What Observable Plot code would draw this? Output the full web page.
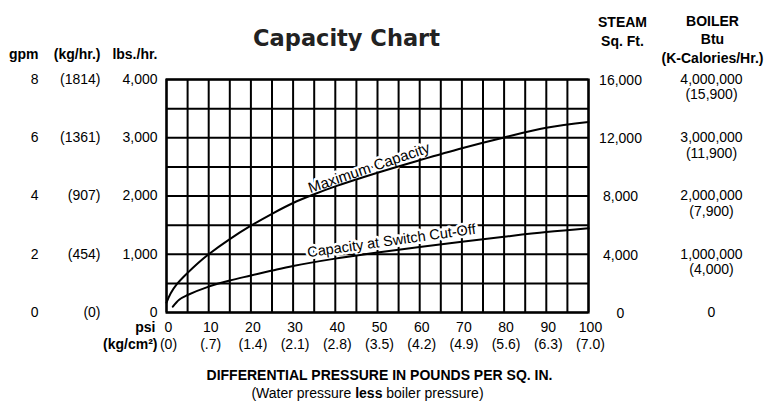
<!DOCTYPE html>
<html><head><meta charset="utf-8">
<script src="https://cdn.jsdelivr.net/npm/d3@7"></script>
<script src="https://cdn.jsdelivr.net/npm/@observablehq/plot@0.6"></script>
<style>body{margin:0;background:#fff} svg{display:block}</style>
</head><body><div id="chart"></div>
<script>
// ---- data ----
const psiTicks = [0, 10, 20, 30, 40, 50, 60, 70, 80, 90, 100];
const kgcm2Labels = ["(0)", "(.7)", "(1.4)", "(2.1)", "(2.8)", "(3.5)", "(4.2)", "(4.9)", "(5.6)", "(6.3)", "(7.0)"];
const lbsTicks = [0, 1000, 2000, 3000, 4000];
const lbsLabels = ["0", "1,000", "2,000", "3,000", "4,000"];
const gpmLabels = ["0", "2", "4", "6", "8"];
const kghrLabels = ["(0)", "(454)", "(907)", "(1361)", "(1814)"];
const steamLabels = ["0", "4,000", "8,000", "12,000", "16,000"];
const btuLabels = ["0", "1,000,000", "2,000,000", "3,000,000", "4,000,000"];
const kcalLabels = ["", "(4,000)", "(7,900)", "(11,900)", "(15,900)"];
const gridPsi = [0, 5, 10, 15, 20, 25, 30, 35, 40, 45, 50, 55, 60, 65, 70, 75, 80, 85, 90, 95, 100];
const gridLbs = [0, 500, 1000, 1500, 2000, 2500, 3000, 3500, 4000];

const maxPsi = [0, 1, 2.5, 5, 7.5, 10, 15, 20, 25, 30, 35, 40, 50, 60, 70, 80, 90, 100];
const maxLbs = [170, 330, 490, 680, 850, 1000, 1260, 1490, 1695, 1880, 2030, 2165, 2400, 2615, 2820, 3005, 3170, 3270];
const cutPsi = [1.5, 3, 5, 10, 15, 20, 25, 30, 40, 50, 60, 70, 80, 90, 100];
const cutLbs = [100, 220, 300, 445, 550, 635, 720, 800, 925, 1030, 1125, 1215, 1300, 1380, 1445];

const curveNames = ["Maximum Capacity", "Capacity at Switch Cut-Off"];

const maxData = maxPsi.map((p, i) => ({psi: p, lbs: maxLbs[i]}));
const cutData = cutPsi.map((p, i) => ({psi: p, lbs: cutLbs[i]}));
const fmt = (labels) => (d) => labels[lbsTicks.indexOf(d)];
const fmtX = (labels) => (d) => labels[psiTicks.indexOf(d)];

const F = "'Liberation Sans', Arial, Helvetica, sans-serif";
const hdr = (txt, anchor, dx, dy, extra = {}) =>
  Plot.text([txt], {frameAnchor: anchor, dx, dy, fontWeight: "bold", fontSize: 14, ...extra});

const chart = Plot.plot({
  width: 765, height: 407,
  marginLeft: 166, marginRight: 177, marginTop: 79, marginBottom: 95,
  x: {domain: [0, 100]},
  y: {domain: [0, 4000]},
  style: {fontFamily: F, fontSize: "14px", color: "#000", background: "#fff"},
  marks: [
    Plot.ruleX(gridPsi, {stroke: "#000", strokeWidth: 2}),
    Plot.ruleY(gridLbs, {stroke: "#000", strokeWidth: 2}),
    Plot.frame({stroke: "#000", strokeWidth: 2.2}),
    // curve labels with white halo (erase grid behind)
    Plot.text([curveNames[0]], {x: () => 48, y: () => 2480, rotate: -19, fontSize: 15, fill: "#000", stroke: "#fff", strokeWidth: 5, textAnchor: "middle"}),
    Plot.text([curveNames[1]], {x: () => 53.3, y: () => 1230, rotate: -8, fontSize: 14.5, fill: "#000", stroke: "#fff", strokeWidth: 5, textAnchor: "middle"}),
    Plot.line(maxData, {x: "psi", y: "lbs", curve: "catmull-rom", stroke: "#000", strokeWidth: 2}),
    Plot.line(cutData, {x: "psi", y: "lbs", curve: "catmull-rom", stroke: "#000", strokeWidth: 2}),
    // left axes
    Plot.axisY(lbsTicks, {anchor: "left", tickSize: 0, tickPadding: 9, tickFormat: fmt(lbsLabels), fontSize: 14, label: null}),
    Plot.axisY(lbsTicks, {anchor: "left", tickSize: 0, tickPadding: 66, tickFormat: fmt(kghrLabels), fontSize: 14, label: null}),
    Plot.axisY(lbsTicks, {anchor: "left", tickSize: 0, tickPadding: 128, tickFormat: fmt(gpmLabels), fontSize: 14, label: null}),
    // right axes
    Plot.axisY(lbsTicks, {anchor: "right", tickSize: 0, tickPadding: 32, textAnchor: "middle", tickFormat: fmt(steamLabels), fontSize: 14, label: null, dy: 1}),
    Plot.axisY(lbsTicks, {anchor: "right", tickSize: 0, tickPadding: 123, textAnchor: "middle", tickFormat: fmt(btuLabels), fontSize: 14, label: null, dy: 0}),
    Plot.axisY(lbsTicks, {anchor: "right", tickSize: 0, tickPadding: 123, textAnchor: "middle", tickFormat: fmt(kcalLabels), fontSize: 14, label: null, dy: 15.5}),
    // bottom axes
    Plot.axisX(psiTicks, {anchor: "bottom", tickSize: 0, tickPadding: 10, tickFormat: fmtX(psiTicks.map(String)), fontSize: 14, label: null, dx: 2}),
    Plot.axisX(psiTicks, {anchor: "bottom", tickSize: 0, tickPadding: 27, tickFormat: fmtX(kgcm2Labels), fontSize: 14, label: null, dx: 2}),
    hdr("psi", "bottom-left", -11, 10, {lineAnchor: "top", textAnchor: "end"}),
    hdr("(kg/cm²)", "bottom-left", -9, 27, {lineAnchor: "top", textAnchor: "end"}),
    hdr("DIFFERENTIAL PRESSURE IN POUNDS PER SQ. IN.", "bottom", 2, 67),
    Plot.text(["(Water pressure less boiler pressure)"], {frameAnchor: "bottom", dx: -10, dy: 85, fontSize: 14}),
    // headers
    Plot.text(["Capacity Chart"], {frameAnchor: "top", dx: -31, dy: -49, fontFamily: "'DejaVu Sans', Verdana, sans-serif", fontWeight: "bold", fontSize: 22.5, fill: "#222"}),
    hdr("gpm", "top-left", -128, -30, {textAnchor: "end"}),
    hdr("(kg/hr.)", "top-left", -66, -30, {textAnchor: "end"}),
    hdr("lbs./hr.", "top-left", -9, -30, {textAnchor: "end"}),
    hdr("STEAM", "top-right", 34, -62, {textAnchor: "middle"}),
    hdr("Sq. Ft.", "top-right", 34, -43, {textAnchor: "middle"}),
    hdr("BOILER", "top-right", 124, -63, {textAnchor: "middle"}),
    hdr("Btu", "top-right", 124, -45, {textAnchor: "middle"}),
    hdr("(K-Calories/Hr.)", "top-right", 124, -26, {textAnchor: "middle"})
  ]
});

// bold "less" in the subtitle
d3.select(chart).selectAll("text").each(function() {
  if (this.textContent === "(Water pressure less boiler pressure)") {
    const t = d3.select(this);
    t.text("");
    t.append("tspan").text("(Water pressure ");
    t.append("tspan").attr("font-weight", "bold").text("less");
    t.append("tspan").text(" boiler pressure)");
    t.attr("xml:space", "preserve").style("white-space", "pre");
  }
});
document.getElementById("chart").appendChild(chart);
</script>
</body></html>
